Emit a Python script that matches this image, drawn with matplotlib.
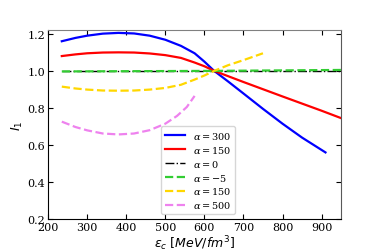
import matplotlib
matplotlib.use("Agg")
import matplotlib.pyplot as plt

# energy density eps_c [MeV/fm^3] and I_1 values
eps_a300 = [235, 270, 300, 340, 380, 420, 460, 500, 540, 575, 600, 625, 660, 700, 750, 800, 850, 910]
i1_a300 = [1.16, 1.178, 1.19, 1.201, 1.205, 1.202, 1.19, 1.168, 1.135, 1.095, 1.05, 1.0, 0.944, 0.878, 0.795, 0.715, 0.64, 0.56]

eps_a150 = [235, 270, 300, 340, 380, 420, 460, 500, 540, 575, 600, 625, 700, 800, 900, 950]
i1_a150 = [1.08, 1.089, 1.095, 1.099, 1.10, 1.099, 1.094, 1.085, 1.07, 1.045, 1.025, 1.0, 0.94, 0.862, 0.785, 0.745]

eps_a0 = [235, 950]
i1_a0 = [1.0, 1.0]

eps_am5 = [235, 625, 950]
i1_am5 = [0.997, 1.0, 1.005]

eps_b150 = [235, 270, 300, 340, 380, 420, 460, 500, 540, 575, 600, 625, 660, 700, 750]
i1_b150 = [0.915, 0.905, 0.899, 0.894, 0.893, 0.894, 0.899, 0.908, 0.925, 0.953, 0.975, 1.0, 1.03, 1.058, 1.095]

eps_b500 = [235, 270, 300, 340, 380, 420, 460, 500, 530, 555, 575]
i1_b500 = [0.726, 0.697, 0.679, 0.662, 0.657, 0.662, 0.68, 0.715, 0.757, 0.805, 0.865]

labels = [r"$\alpha=300$", r"$\alpha=150$", r"$\alpha=0$",
          r"$\alpha=-5$", r"$\alpha=150$", r"$\alpha=500$"]

fig = plt.figure(figsize=(3.79, 2.53), dpi=100)
ax = fig.add_axes([0.127, 0.13, 0.773, 0.747])

ax.plot(eps_a300, i1_a300, color="blue", lw=1.6, label=labels[0])
ax.plot(eps_a150, i1_a150, color="red", lw=1.6, label=labels[1])
ax.plot(eps_a0, i1_a0, color="black", lw=1.0, ls="-.", label=labels[2])
ax.plot(eps_am5, i1_am5, color="limegreen", lw=1.6, ls="--", label=labels[3])
ax.plot(eps_b150, i1_b150, color="gold", lw=1.6, ls="--", label=labels[4])
ax.plot(eps_b500, i1_b500, color="violet", lw=1.6, ls="--", label=labels[5])

ax.set_xlim(200, 950)
ax.set_ylim(0.2, 1.22)
ax.set_xticks([200, 300, 400, 500, 600, 700, 800, 900])
ax.set_yticks([0.2, 0.4, 0.6, 0.8, 1.0, 1.2])
ax.tick_params(direction="in", top=True, right=True, labelsize=8, length=3.5, pad=2)
for t in ax.get_xticklabels() + ax.get_yticklabels():
    t.set_fontfamily("DejaVu Serif")

ax.spines["top"].set_color("gray")
ax.spines["right"].set_color("0.35")

ax.set_xlabel(r"$\epsilon_c\ [MeV/fm^3]$", fontsize=9, labelpad=1)
ax.set_ylabel(r"$I_1$", fontsize=9, labelpad=2)

leg = ax.legend(loc="lower left", bbox_to_anchor=(0.37, 0.0), fontsize=7,
                prop={"size": 7, "math_fontfamily": "dejavuserif"},
                handlelength=2.0, labelspacing=0.3, borderpad=0.4)

fig.savefig("out.png", dpi=100)
